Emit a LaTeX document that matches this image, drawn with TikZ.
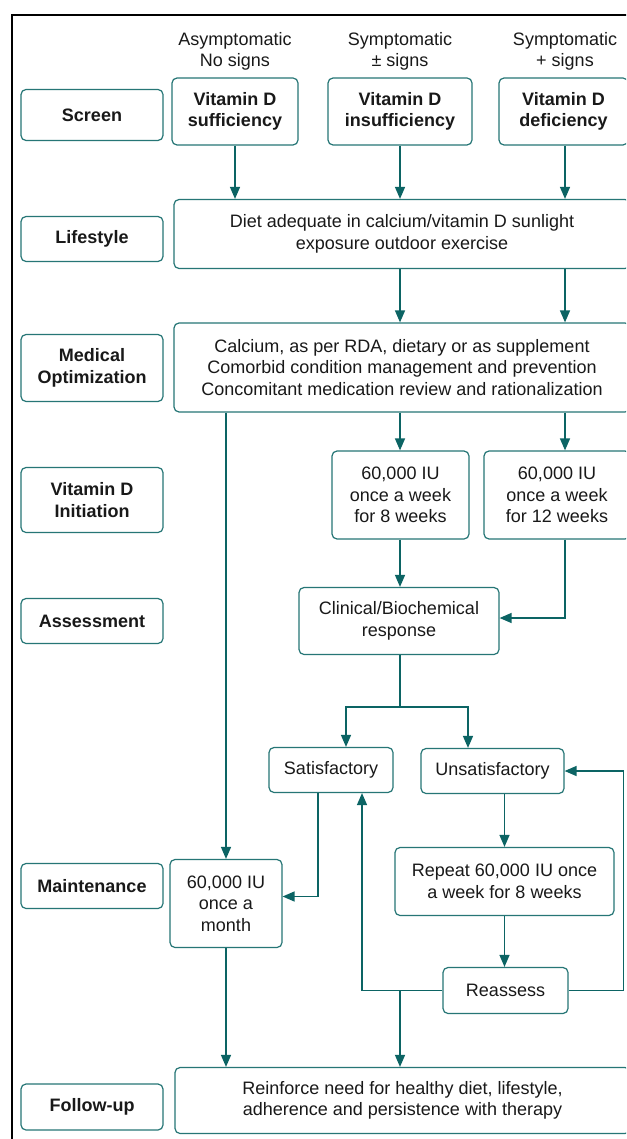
\documentclass[tikz,border=0pt]{standalone}
\usepackage{fontspec}
\setmainfont{Liberation Sans}
\usetikzlibrary{arrows.meta}
\definecolor{boxc}{RGB}{38,118,118}
\definecolor{arrc}{RGB}{12,100,100}
\definecolor{txt}{RGB}{25,25,25}
\tikzset{
  box/.style={draw=boxc, line width=1.2pt, rounded corners=5pt, align=center, text=txt,
    font=\fontsize{18}{21.5}\selectfont, inner sep=0pt},
  lab/.style={box, font=\bfseries\fontsize{18}{21.5}\selectfont, minimum width=142pt},
  hdr/.style={align=center, text=txt, font=\fontsize{18}{21}\selectfont, inner sep=0pt},
  arr/.style={draw=arrc, line width=1.4pt, -{Triangle[length=12pt,width=10pt]}},
  ln/.style={draw=arrc, line width=1.4pt},
}
\begin{document}
\begin{tikzpicture}[x=1pt,y=-1pt]
\clip (0,0) rectangle (626,1139);
\fill[white] (0,0) rectangle (626,1139);
% outer frame
\draw[black, line width=1.5pt] (12,1160) -- (12,15) -- (660,15);

% left labels
\node[lab, minimum height=51pt] (lscreen) at (92,115) {Screen};
\node[lab, minimum height=45pt] (llife) at (92,239) {Lifestyle};
\node[lab, minimum height=67pt] (lmed) at (92,368) {Medical\\Optimization};
\node[lab, minimum height=65pt] (linit) at (92,500) {Vitamin D\\Initiation};
\node[lab, minimum height=45pt] (lass) at (92,621) {Assessment};
\node[lab, minimum height=45pt] (lmaint) at (92,886) {Maintenance};
\node[lab, minimum height=46pt] (lfol) at (92,1107) {Follow-up};

% headers
\node[hdr] (h1) at (235,51) {Asymptomatic\\No signs};
\node[hdr] (h2) at (400,51) {Symptomatic\\± signs};
\node[hdr] (h3) at (565,51) {Symptomatic\\+ signs};

% screen boxes
\node[box, minimum width=126pt, minimum height=67pt] (suff) at (235,111.5) {\bfseries Vitamin D\\\bfseries sufficiency};
\node[box, minimum width=144pt, minimum height=67pt] (insuff) at (400,111.5) {\bfseries Vitamin D\\\bfseries insufficiency};
\node[box, minimum width=129pt, minimum height=67pt] (defic) at (563.5,111.5) {\bfseries Vitamin D\\\bfseries deficiency};

% lifestyle
\node[box, minimum width=456pt, minimum height=69pt] (diet) at (402,234) {Diet adequate in calcium/vitamin D sunlight\\exposure outdoor exercise};
% medical
\node[box, minimum width=456pt, minimum height=89pt] (med) at (402,367.5) {Calcium, as per RDA, dietary or as supplement\\Comorbid condition management and prevention\\Concomitant medication review and rationalization};
% initiation
\node[box, minimum width=137pt, minimum height=88pt] (w8) at (400.5,495) {60,000 IU\\once a week\\for 8 weeks};
\node[box, minimum width=146pt, minimum height=88pt] (w12) at (557,495) {60,000 IU\\once a week\\for 12 weeks};
% assessment
\node[box, minimum width=200pt, minimum height=67pt] (clin) at (399,621) {Clinical/Biochemical\\response};
\node[box, minimum width=124pt, minimum height=45pt] (sat) at (331,770) {Satisfactory};
\node[box, minimum width=143pt, minimum height=45pt] (unsat) at (492.5,771) {Unsatisfactory};
\node[box, minimum width=219pt, minimum height=68pt] (rep) at (504.5,881.5) {Repeat 60,000 IU once\\a week for 8 weeks};
\node[box, minimum width=125pt, minimum height=46pt] (reas) at (505.5,990.5) {Reassess};
% maintenance
\node[box, minimum width=112pt, minimum height=88pt] (month) at (226,903.5) {60,000 IU\\once a\\month};
% follow-up
\node[box, minimum width=455pt, minimum height=66pt] (reinf) at (402.5,1100.5) {Reinforce need for healthy diet, lifestyle,\\adherence and persistence with therapy};

% connectors
\draw[arr] (suff.south) -- (suff.south |- diet.north);
\draw[arr] (insuff.south) -- (insuff.south |- diet.north);
\draw[arr] ([xshift=1.5pt]defic.south) -- ([xshift=1.5pt]defic.south |- diet.north);
\draw[arr] (diet.south -| insuff.south) -- (med.north -| insuff.south);
\draw[arr] ([xshift=1.5pt]diet.south -| defic.south) -- ([xshift=1.5pt]med.north -| defic.south);
\draw[arr] (med.south -| insuff.south) -- (w8.north -| insuff.south);
\draw[arr] ([xshift=1.5pt]med.south -| defic.south) -- ([xshift=1.5pt]w12.north -| defic.south);
\draw[arr] (med.south -| month.north) -- (month.north);
\draw[arr] (w8.south -| insuff.south) -- (clin.north -| insuff.south);
\draw[arr] ([xshift=1.5pt]w12.south -| defic.south) |- ([yshift=3pt]clin.east);
\coordinate (split) at (400,707);
\draw[ln] (clin.south -| insuff.south) -- (split);
\draw[arr] (split) -| ([xshift=15pt]sat.north);
\draw[arr] (split) -| ([xshift=-24.5pt]unsat.north);
\draw[arr] ([xshift=-13pt]sat.south) |- ([yshift=7pt]month.east);
\draw[arr] (rep.north |- unsat.south) -- (rep.north);
\draw[arr] (rep.south) -- (rep.south |- reas.north);
\draw[arr] (reas.east) -- ++(55,0) |- (unsat.east);
\draw[arr] (reas.west) -| ([xshift=31pt]sat.south);
\draw[arr] (reas.west -| insuff.south) -- (reinf.north -| insuff.south);
\draw[arr] (month.south) -- (month.south |- reinf.north);
\end{tikzpicture}
\end{document}
